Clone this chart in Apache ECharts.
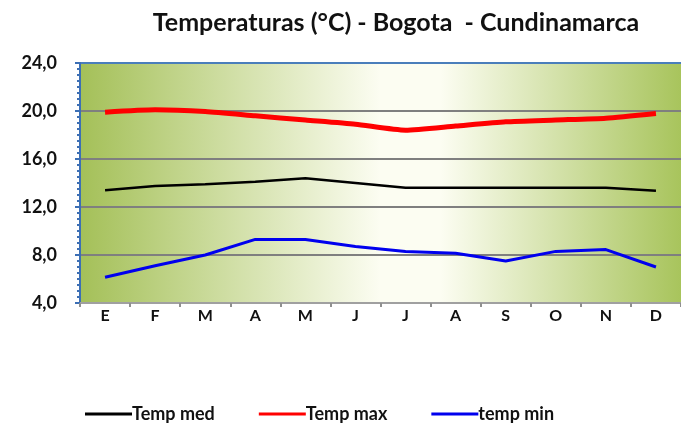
<!DOCTYPE html>
<html><head><meta charset="utf-8">
<script src="https://cdn.jsdelivr.net/npm/echarts@6/dist/echarts.min.js"></script>
<style>html,body{margin:0;padding:0;background:#fff}#c{width:681px;height:429px}</style>
</head><body><div id="c"></div>
<script>
const months = ['E','F','M','A','M','J','J','A','S','O','N','D'];
const tempMed = [13.4, 13.75, 13.9, 14.1, 14.4, 14.0, 13.6, 13.6, 13.6, 13.6, 13.6, 13.35];
const tempMax = [19.9, 20.1, 19.95, 19.6, 19.25, 18.9, 18.4, 18.75, 19.1, 19.25, 19.4, 19.8];
const tempMin = [6.15, 7.1, 8.0, 9.3, 9.3, 8.7, 8.3, 8.15, 7.5, 8.3, 8.45, 7.0];
const yTicks = {min: 4, max: 24, interval: 4};

const chart = echarts.init(document.getElementById('c'));
const font = 'Lato, "Open Sans", sans-serif';
chart.setOption({
  animation: false,
  title: {
    text: 'Temperaturas (°C) - Bogota  - Cundinamarca',
    left: 391, top: 5, textAlign: 'center',
    textStyle: {fontFamily: font, fontWeight: 'bold', fontSize: 25, color: '#111'}
  },
  grid: {
    left: 80, right: -11, top: 63, bottom: 126,
    show: true, borderWidth: 0,
    backgroundColor: new echarts.graphic.LinearGradient(0, 0, 1, 0, [
      {offset: 0, color: '#a4c058'},
      {offset: 0.5, color: '#fcfdf2'},
      {offset: 0.6, color: '#fcfdf2'},
      {offset: 1, color: '#a8c45c'}
    ])
  },
  legend: {
    bottom: 1, left: 80,
    itemWidth: 47, itemHeight: 3, itemGap: 44,
    icon: 'rect',
    textStyle: {fontFamily: font, fontWeight: 'bold', fontSize: 18, color: '#111', padding: [0,0,0,-5]},
    data: ['Temp med','Temp max','temp min']
  },
  xAxis: {
    type: 'category', data: months, boundaryGap: true,
    axisLine: {lineStyle: {color: '#a0a0a0', width: 2}},
    axisTick: {show: true, length: 4, lineStyle: {color: '#909090', width: 2}},
    axisLabel: {fontFamily: font, fontWeight: 'bold', fontSize: 16, color: '#111', margin: 5}
  },
  yAxis: {
    type: 'value', min: yTicks.min, max: yTicks.max, interval: yTicks.interval,
    axisLine: {show: true, lineStyle: {color: '#3c6fb5', width: 2}},
    axisTick: {show: true, length: 5, lineStyle: {color: '#3c6fb5', width: 2}},
    minorTick: {show: true, splitNumber: 8, length: 3, lineStyle: {color: '#3c6fb5', width: 2}},
    splitLine: {show: true, lineStyle: {color: ['rgba(0,0,0,0)','#7f7f7f','#7f7f7f','#7f7f7f','#7f7f7f','#4a7ebb'], width: 2}},
    axisLabel: {fontFamily: font, fontWeight: 'bold', fontSize: 18, color: '#111', margin: 23,
      formatter: v => v.toFixed(1).replace('.', ',')}
  },
  series: [
    {name: 'Temp med', type: 'line', data: tempMed, showSymbol: false, symbol: 'none',
      lineStyle: {color: '#000', width: 2.5}, itemStyle: {color: '#000'}},
    {name: 'Temp max', type: 'line', data: tempMax, showSymbol: false, symbol: 'none', smooth: 0.2,
      lineStyle: {color: '#ff0000', width: 5}, itemStyle: {color: '#ff0000'}},
    {name: 'temp min', type: 'line', data: tempMin, showSymbol: false, symbol: 'none',
      lineStyle: {color: '#0000ee', width: 3}, itemStyle: {color: '#0000ee'}}
  ]
});
</script></body></html>
